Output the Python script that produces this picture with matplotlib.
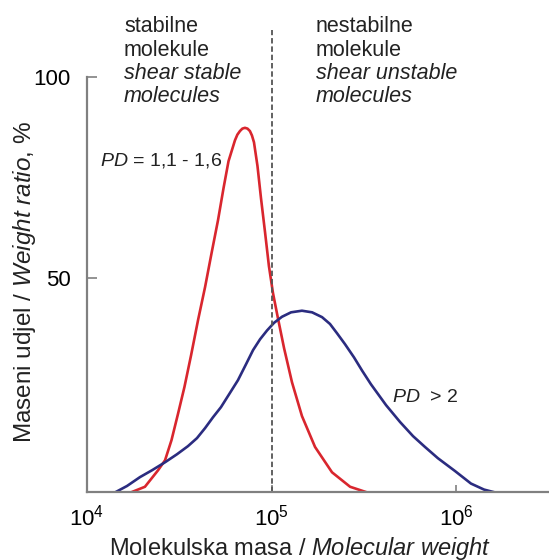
import matplotlib
matplotlib.use("Agg")
import matplotlib.pyplot as plt
import numpy as np

plt.rcParams['font.family'] = ['Liberation Sans', 'DejaVu Sans']
plt.rcParams['mathtext.fontset'] = 'custom'
plt.rcParams['mathtext.rm'] = 'Liberation Sans'
plt.rcParams['mathtext.it'] = 'Liberation Sans:italic'

# Data: log10(molecular weight) vs weight ratio (%)
red_logmw = [4.238, 4.314, 4.385, 4.423, 4.458, 4.493, 4.528, 4.564, 4.602, 4.640,
             4.675, 4.710, 4.740, 4.767, 4.802, 4.815, 4.829, 4.842, 4.856, 4.870,
             4.883, 4.894, 4.905, 4.924, 4.943, 4.965, 4.986, 5.008, 5.035, 5.068,
             5.111, 5.165, 5.236, 5.328, 5.426, 5.518]
red_val = [-3.3, -1.9, 2.2, 4.7, 9.7, 16.2, 22.9, 30.8, 39.6, 47.8,
           56.2, 64.4, 72.4, 79.1, 84.3, 85.7, 86.6, 87.2, 87.4, 87.2,
           86.6, 85.5, 83.8, 77.9, 69.9, 61.4, 53.0, 46.3, 40.0, 32.6,
           24.1, 15.7, 8.0, 1.7, -1.9, -3.3]

blue_logmw = [4.152, 4.217, 4.287, 4.352, 4.423, 4.488, 4.547, 4.596, 4.640, 4.683,
              4.726, 4.770, 4.818, 4.862, 4.900, 4.938, 4.976, 5.014, 5.057, 5.106,
              5.165, 5.220, 5.274, 5.317, 5.355, 5.398, 5.447, 5.491, 5.539, 5.621,
              5.697, 5.767, 5.832, 5.902, 5.995, 6.081, 6.152, 6.211]
blue_val = [-3.3, -1.7, 0.5, 2.2, 4.2, 6.2, 8.2, 10.2, 12.7, 15.4,
            17.9, 21.1, 24.6, 28.6, 32.1, 34.8, 37.0, 38.9, 40.4, 41.5,
            41.9, 41.5, 40.3, 38.6, 36.3, 33.6, 30.3, 27.0, 23.6, 18.4,
            14.2, 10.7, 8.0, 5.2, 2.0, -1.1, -2.6, -3.3]

xticks = [1e4, 1e5, 1e6]
yticks = [50, 100]

W, H = 549, 560
fig = plt.figure(figsize=(W / 100, H / 100), dpi=100)
ax = fig.add_axes([87 / W, 1 - 492 / H, 1 - 87 / W, 492 / H])

ax.plot(10 ** np.array(red_logmw), red_val, color='#d9262e', lw=1.9,
        solid_capstyle='round', solid_joinstyle='round')
ax.plot(10 ** np.array(blue_logmw), blue_val, color='#2b2c80', lw=1.9,
        solid_capstyle='round', solid_joinstyle='round')
ax.plot([1e5, 1e5], [-3.2, 111.7], color='#555555', lw=1.3, ls=(0, (3, 1.6)))

ax.set_xscale('log')
ax.set_xlim(1e4, 10 ** 6.504)
ax.set_ylim(-3.2, 119.2)
ax.set_xticks(xticks)
ax.set_yticks(yticks)
ax.minorticks_off()

for s in ['top', 'right']:
    ax.spines[s].set_visible(False)
for s in ['left', 'bottom']:
    ax.spines[s].set_color('#808080')
    ax.spines[s].set_linewidth(1.6)
ax.spines['left'].set_bounds(-3.2, 100)

ax.tick_params(axis='y', direction='in', length=7, width=1.2, color='#808080',
               labelsize=16, pad=12)
ax.tick_params(axis='x', direction='in', length=5, width=1.2, color='#808080',
               labelsize=16, pad=9)

def px(x, y):
    return x / W, 1 - y / H

tc = '#222222'
fs = 15.5
for i, (t, st) in enumerate([('stabilne', 'normal'), ('molekule', 'normal'),
                             ('shear stable', 'italic'), ('molecules', 'italic')]):
    fig.text(*px(124, 32 + 23.5 * i), t, fontsize=fs, style=st, color=tc, va='baseline')
for i, (t, st) in enumerate([('nestabilne', 'normal'), ('molekule', 'normal'),
                             ('shear unstable', 'italic'), ('molecules', 'italic')]):
    fig.text(*px(316, 32 + 23.5 * i), t, fontsize=fs, style=st, color=tc, va='baseline')

fig.text(*px(100, 161), r'$\mathit{PD}$ = 1,1 - 1,6', fontsize=14, color=tc, va='center')
fig.text(*px(392, 398), r'$\mathit{PD}$  > 2', fontsize=14, color=tc, va='center')

fig.text(*px(300, 548), 'Molekulska masa / $\\mathit{Molecular\\ weight}$',
         fontsize=17, color=tc, ha='center', va='center')
fig.text(*px(25, 282), 'Maseni udjel / $\\mathit{Weight\\ ratio}$, %',
         fontsize=17.5, color=tc, ha='center', va='center', rotation=90)

fig.savefig('out.png', dpi=100)
